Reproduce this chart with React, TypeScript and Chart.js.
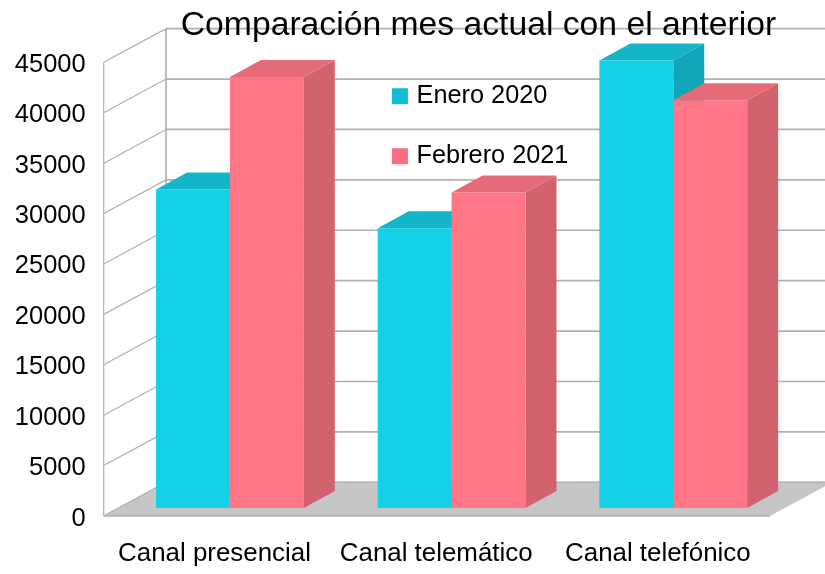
import React, { useEffect, useRef } from "react";
import { Chart, registerables } from "chart.js";

Chart.register(...registerables);

const CHART_TITLE = "Comparación mes actual con el anterior";
const CATEGORIES = ["Canal presencial", "Canal telemático", "Canal telefónico"];
const ENERO_LABEL = "Enero 2020";
const FEBRERO_LABEL = "Febrero 2021";
const ENERO_VALUES = [31600, 27750, 44400];
const FEBRERO_VALUES = [42750, 31300, 40450];

const FONT = "'Liberation Sans', Arial, sans-serif";
const WALL_DX = 62.3;
const WALL_DY = -33.7;
const BAR_OX = 15.4;
const BAR_OY = -8;
const DEPTH_DX = 31;
const DEPTH_DY = -17;
const FACES: { top: string; side: string }[] = [
  { top: "#13B5C9", side: "#10A6B8" },
  { top: "#E66B79", side: "#D3626F" },
];

const poly = (ctx: CanvasRenderingContext2D, pts: number[][], fill: string) => {
  ctx.beginPath();
  pts.forEach(([x, y], i) => (i ? ctx.lineTo(x, y) : ctx.moveTo(x, y)));
  ctx.closePath();
  ctx.fillStyle = fill;
  ctx.fill();
};

const line = (ctx: CanvasRenderingContext2D, x1: number, y1: number, x2: number, y2: number, w = 1) => {
  ctx.beginPath();
  ctx.moveTo(x1, y1);
  ctx.lineTo(x2, y2);
  ctx.lineWidth = w;
  ctx.strokeStyle = "#B0B0B0";
  ctx.stroke();
};

const box3d = {
  id: "box3d",
  afterLayout(chart: any) {
    const t = chart.titleBlock;
    t.left = 66;
    t.right = 891;
    const l = chart.legend;
    l.left = 361.2;
    l.top = 49;
    l.right = 600;
    l.bottom = 400;
  },
  beforeDraw(chart: any) {
    const { ctx, scales, chartArea } = chart;
    const y = scales.y;
    const left = chartArea.left;
    const bottom = y.getPixelForValue(0);
    const topFront = chartArea.top;
    const frontRight = 770;
    ctx.save();
    y.ticks.forEach((tick: any) => {
      const p = y.getPixelForValue(tick.value);
      line(ctx, left, p, left + WALL_DX, p + WALL_DY, 1.2);
      line(ctx, left + WALL_DX, p + WALL_DY, 840, p + WALL_DY, 1.7);
    });
    line(ctx, left + WALL_DX, topFront + WALL_DY, left + WALL_DX, bottom + WALL_DY, 1.7);
    line(ctx, left, topFront, left, bottom, 1.2);
    poly(
      ctx,
      [
        [left, bottom],
        [left + WALL_DX, bottom + WALL_DY],
        [frontRight + WALL_DX, bottom + WALL_DY],
        [frontRight, bottom],
      ],
      "#C6C6C6"
    );
    line(ctx, left + WALL_DX, bottom + WALL_DY, 840, bottom + WALL_DY, 1);
    line(ctx, left, bottom, frontRight, bottom, 1.4);
    line(ctx, left, bottom, left + WALL_DX, bottom + WALL_DY, 1);
    ctx.restore();
  },
  beforeDatasetsDraw(chart: any) {
    const { ctx } = chart;
    ctx.save();
    CATEGORIES.forEach((_, j) => {
      FACES.forEach((face, i) => {
        const bar = chart.getDatasetMeta(i).data[j];
        const l = bar.x - bar.width / 2 + BAR_OX;
        const r = bar.x + bar.width / 2 + BAR_OX;
        const t = bar.y + BAR_OY;
        const b = bar.base + BAR_OY;
        poly(
          ctx,
          [
            [r, t],
            [r + DEPTH_DX, t + DEPTH_DY],
            [r + DEPTH_DX, b + DEPTH_DY],
            [r, b],
          ],
          face.side
        );
        poly(
          ctx,
          [
            [l, t],
            [l + DEPTH_DX, t + DEPTH_DY],
            [r + DEPTH_DX, t + DEPTH_DY],
            [r, t],
          ],
          face.top
        );
      });
    });
    ctx.translate(BAR_OX, BAR_OY);
  },
  afterDatasetsDraw(chart: any) {
    chart.ctx.restore();
  },
};

export default function App() {
  const ref = useRef<HTMLCanvasElement | null>(null);

  useEffect(() => {
    if (!ref.current) return;
    const legendSwatches = ["#12BDD2", "#F56F7F"];
    const chart = new Chart(ref.current, {
      type: "bar",
      plugins: [box3d],
      data: {
        labels: CATEGORIES,
        datasets: [
          {
            label: ENERO_LABEL,
            data: ENERO_VALUES,
            backgroundColor: "#14D1E8",
            borderWidth: 0,
            clip: false,
            categoryPercentage: 2 / 3,
            barPercentage: 1,
          },
          {
            label: FEBRERO_LABEL,
            data: FEBRERO_VALUES,
            backgroundColor: "#FF7686",
            borderWidth: 0,
            clip: false,
            categoryPercentage: 2 / 3,
            barPercentage: 1,
          },
        ],
      } as any,
      options: {
        responsive: false,
        animation: false,
        layout: { autoPadding: false, padding: { left: 0, right: 56.3, top: 0, bottom: 0 } },
        plugins: {
          title: {
            display: true,
            text: CHART_TITLE,
            color: "#000",
            font: { family: FONT, size: 33.7, weight: "normal", lineHeight: 1.2 },
            padding: { top: 5, bottom: 16.9 },
          },
          legend: {
            position: "chartArea",
            align: "start",
            labels: {
              color: "#000",
              font: { family: FONT, size: 25.3 },
              boxWidth: 8,
              boxHeight: 8,
              padding: 34.7,
              generateLabels: (c: any) =>
                c.data.datasets.map((d: any, i: number) => ({
                  text: d.label,
                  fillStyle: legendSwatches[i],
                  strokeStyle: legendSwatches[i],
                  lineWidth: 8,
                  datasetIndex: i,
                  fontColor: "#000",
                })),
            },
          },
          tooltip: { enabled: false },
        },
        scales: {
          x: {
            grid: { display: false, drawTicks: false },
            border: { display: false },
            ticks: { color: "#000", font: { family: FONT, size: 25.9 }, padding: 22, maxRotation: 0 },
            afterFit: (s: any) => {
              s.height = 58;
            },
          },
          y: {
            min: 0,
            max: 45000,
            grid: { display: false, drawTicks: false },
            border: { display: false },
            ticks: {
              stepSize: 5000,
              color: "#000",
              font: { family: FONT, size: 25.5 },
              padding: 18,
              labelOffset: 2.5,
              callback: (v: any) => String(v),
            },
            afterFit: (s: any) => {
              s.width = 103.7;
            },
          },
        },
      } as any,
    });
    return () => chart.destroy();
  }, []);

  return (
    <div style={{ position: "absolute", left: 0, top: 0, width: 825, height: 574, background: "#fff" }}>
      <canvas ref={ref} width={825} height={574} style={{ display: "block" }} />
    </div>
  );
}
